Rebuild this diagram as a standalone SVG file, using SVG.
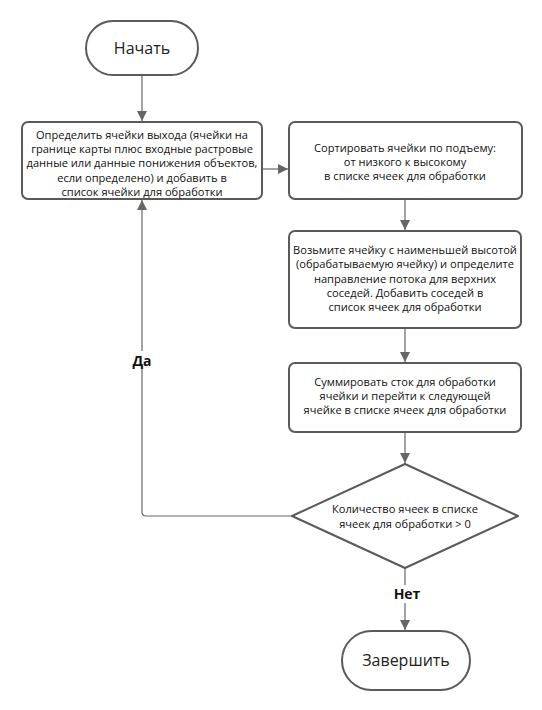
<svg xmlns="http://www.w3.org/2000/svg" width="542" height="710" viewBox="0 0 542 710">
<style>
.n{fill:#fff;stroke:#5a5a5a;stroke-width:2}
.t{font-family:"Open Sans","DejaVu Sans",sans-serif;font-size:11.1px;fill:#111;text-anchor:middle}
.big{font-family:"Open Sans","DejaVu Sans",sans-serif;font-size:16px;fill:#222;text-anchor:middle}
.lbl{font-family:"Open Sans","DejaVu Sans",sans-serif;font-size:14px;font-weight:bold;fill:#111;text-anchor:middle}
.c{fill:none;stroke:#666;stroke-width:1.2}
</style>
<defs>
<marker id="a" viewBox="0 0 10 10" refX="10" refY="5" markerWidth="10" markerHeight="10" markerUnits="userSpaceOnUse" orient="auto">
<path d="M0,0 L10,5 L0,10 Z" fill="#666"/>
</marker>
</defs>
<rect width="542" height="710" fill="#fff"/>
<g id="connectors">
<path class="c" d="M142,76 V121" marker-end="url(#a)"/>
<path class="c" d="M263,169 H288" marker-end="url(#a)"/>
<path class="c" d="M405,200 V230" marker-end="url(#a)"/>
<path class="c" d="M405,329 V362" marker-end="url(#a)"/>
<path class="c" d="M405,433 V463" marker-end="url(#a)"/>
<path class="c" d="M292,516 H146 Q142,516 142,512 V200" marker-end="url(#a)"/>
<path class="c" d="M405,568 V630" marker-end="url(#a)"/>
<rect x="128" y="351" width="28" height="18" fill="#fff"/>
<text class="lbl" x="142" y="366">Да</text>
<rect x="392" y="585" width="30" height="18" fill="#fff"/>
<text class="lbl" x="407" y="599">Нет</text>
</g>
<g id="start">
<rect class="n" x="86" y="21" width="112" height="54" rx="27"/>
<text class="big" x="142" y="54">Начать</text>
</g>
<g id="box1">
<rect class="n" x="22" y="122" width="240" height="77" rx="6"/>
<text class="t" x="142" y="139">Определить ячейки выхода (ячейки на</text>
<text class="t" x="142" y="153">границе карты плюс входные растровые</text>
<text class="t" x="142" y="167">данные или данные понижения объектов,</text>
<text class="t" x="142" y="182">если определено) и добавить в</text>
<text class="t" x="142" y="196">список ячейки для обработки</text>
</g>
<g id="box2">
<rect class="n" x="289" y="122" width="233" height="77" rx="6"/>
<text class="t" x="405" y="152">Сортировать ячейки по подъему:</text>
<text class="t" x="405" y="166">от низкого к высокому</text>
<text class="t" x="405" y="180">в списке ячеек для обработки</text>
</g>
<g id="box3">
<rect class="n" x="289" y="231" width="232" height="97" rx="6"/>
<text class="t" x="405" y="254">Возьмите ячейку с наименьшей высотой</text>
<text class="t" x="405" y="268">(обрабатываемую ячейку) и определите</text>
<text class="t" x="405" y="283">направление потока для верхних</text>
<text class="t" x="405" y="297">соседей. Добавить соседей в</text>
<text class="t" x="405" y="311">список ячеек для обработки</text>
</g>
<g id="box4">
<rect class="n" x="289" y="363" width="232" height="69" rx="6"/>
<text class="t" x="405" y="386">Суммировать сток для обработки</text>
<text class="t" x="405" y="400">ячейки и перейти к следующей</text>
<text class="t" x="405" y="414">ячейке в списке ячеек для обработки</text>
</g>
<g id="decision">
<path class="n" d="M405,464 L518,516 L405,568 L292,516 Z" stroke-linejoin="round"/>
<text class="t" x="405" y="513">Количество ячеек в списке</text>
<text class="t" x="405" y="528">ячеек для обработки &gt; 0</text>
</g>
<g id="end">
<rect class="n" x="342" y="631" width="128" height="59" rx="29.5"/>
<text class="big" x="406" y="666">Завершить</text>
</g>
</svg>
